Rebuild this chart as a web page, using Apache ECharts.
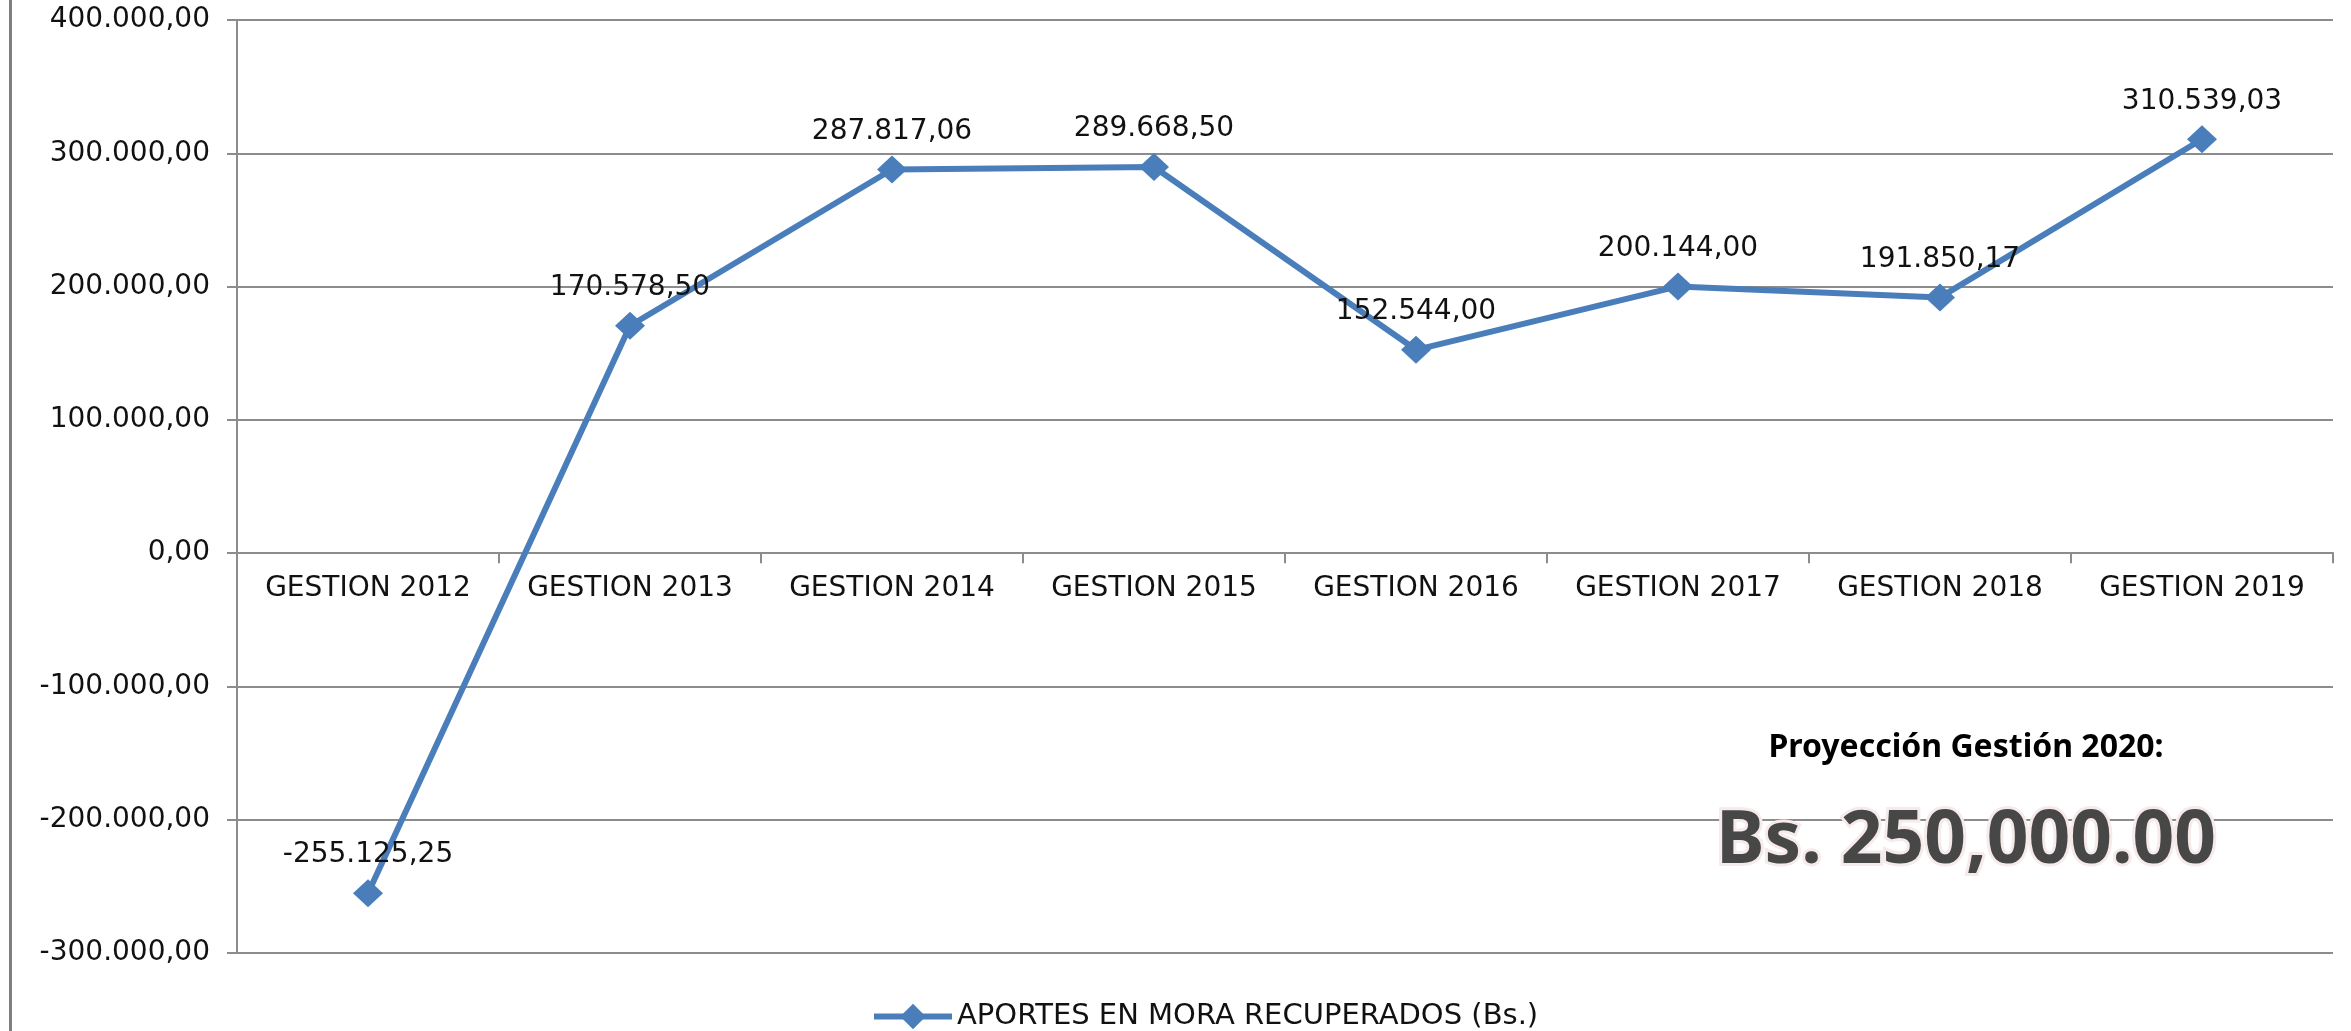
<!DOCTYPE html>
<html>
<head>
<meta charset="utf-8">
<script src="https://cdn.jsdelivr.net/npm/echarts@6/dist/echarts.min.js"></script>
<style>
  html, body { margin: 0; padding: 0; background: #fff; }
  #main { width: 2351px; height: 1031px; }
</style>
</head>
<body>
<div id="main"></div>
<script>
;(function() {
    // datos
    var categories = ['GESTION 2012', 'GESTION 2013', 'GESTION 2014', 'GESTION 2015',
                      'GESTION 2016', 'GESTION 2017', 'GESTION 2018', 'GESTION 2019'];
    var aportes = [-255125.25, 170578.50, 287817.06, 289668.50,
                   152544.00, 200144.00, 191850.17, 310539.03];
    var seriesName = 'APORTES EN MORA RECUPERADOS (Bs.)';
    var projTitle = 'Proyección Gestión 2020:';
    var projValue = 'Bs. 250,000.00';

    var yMin = -300000, yMax = 400000, yStep = 100000;

    var font = 'DejaVu Sans';
    var blue = '#4a7ebb';
    var gray = '#8c8c8c';

    // 1234567.5 -> 1.234.567,50
    function fmt(v) {
        var neg = v < 0;
        var parts = Math.abs(v).toFixed(2).split('.');
        var ent = parts[0].replace(/\B(?=(\d{3})+(?!\d))/g, '.');
        return (neg ? '-' : '') + ent + ',' + parts[1];
    }

    var gridTop = 20, gridBottom = 78, H = 1031;
    var plotH = H - gridTop - gridBottom;
    // eje de categorias sobre el cero
    var zeroOffset = -plotH * (0 - yMin) / (yMax - yMin);

    var myChart = echarts.init(document.getElementById('main'));
    var option = {
        backgroundColor: '#fff',
        animation: false,
        grid: {
            left: 237,
            right: 18,
            top: gridTop,
            bottom: gridBottom,
            containLabel: false,
            outerBoundsMode: 'none'
        },
        legend: {
            data: [seriesName],
            left: 866,
            top: 997,
            itemWidth: 78,
            itemHeight: 32,
            itemGap: 4,
            lineStyle: { width: 6, color: blue },
            itemStyle: { color: blue },
            textStyle: {
                fontFamily: font,
                fontSize: 29,
                color: '#111'
            }
        },
        xAxis: {
            type: 'category',
            data: categories,
            boundaryGap: true,
            position: 'bottom',
            offset: zeroOffset,
            axisLine: {
                onZero: false,
                lineStyle: { color: gray, width: 2 }
            },
            axisTick: {
                show: true,
                interval: 0,
                length: 10,
                lineStyle: { color: gray, width: 2 }
            },
            axisLabel: {
                interval: 0,
                margin: 22,
                fontFamily: font,
                fontSize: 28,
                color: '#111'
            },
            splitLine: { show: false }
        },
        yAxis: {
            type: 'value',
            min: yMin,
            max: yMax,
            interval: yStep,
            axisLine: {
                show: true,
                lineStyle: { color: gray, width: 2 }
            },
            axisTick: {
                show: true,
                length: 10,
                lineStyle: { color: gray, width: 2 }
            },
            axisLabel: {
                margin: 27,
                fontFamily: font,
                fontSize: 28,
                color: '#111',
                formatter: fmt
            },
            splitLine: {
                lineStyle: { color: gray, width: 2 }
            }
        },
        series: [{
            name: seriesName,
            type: 'line',
            data: aportes,
            symbol: 'diamond',
            symbolSize: [30, 28],
            showAllSymbol: true,
            lineStyle: { color: blue, width: 6 },
            itemStyle: { color: blue },
            label: {
                show: true,
                position: 'top',
                distance: 10,
                fontFamily: font,
                fontSize: 28,
                color: '#111',
                formatter: function(p) { return fmt(p.value); }
            },
            z: 3
        }],
        graphic: [
            {
                type: 'rect',
                shape: { x: 9, y: 0, width: 3, height: 1031 },
                style: { fill: '#7f7f7f' },
                silent: true
            },
            {
                type: 'text',
                x: 1966,
                y: 748,
                style: {
                    text: projTitle,
                    fontFamily: 'Noto Sans',
                    fontWeight: 'bold',
                    fontSize: 32,
                    fill: '#000',
                    align: 'center',
                    verticalAlign: 'middle'
                },
                z: 10
            },
            {
                type: 'text',
                x: 1966,
                y: 842,
                style: {
                    text: projValue,
                    fontFamily: 'Noto Sans',
                    fontWeight: 'bold',
                    fontSize: 73,
                    fill: '#474747',
                    stroke: '#f6eaea',
                    lineWidth: 6,
                    align: 'center',
                    verticalAlign: 'middle',
                    shadowColor: 'rgba(0,0,0,0.45)',
                    shadowBlur: 6,
                    shadowOffsetX: 2,
                    shadowOffsetY: 4
                },
                z: 10
            }
        ]
    };
    myChart.setOption(option);
})();
</script>
</body>
</html>
